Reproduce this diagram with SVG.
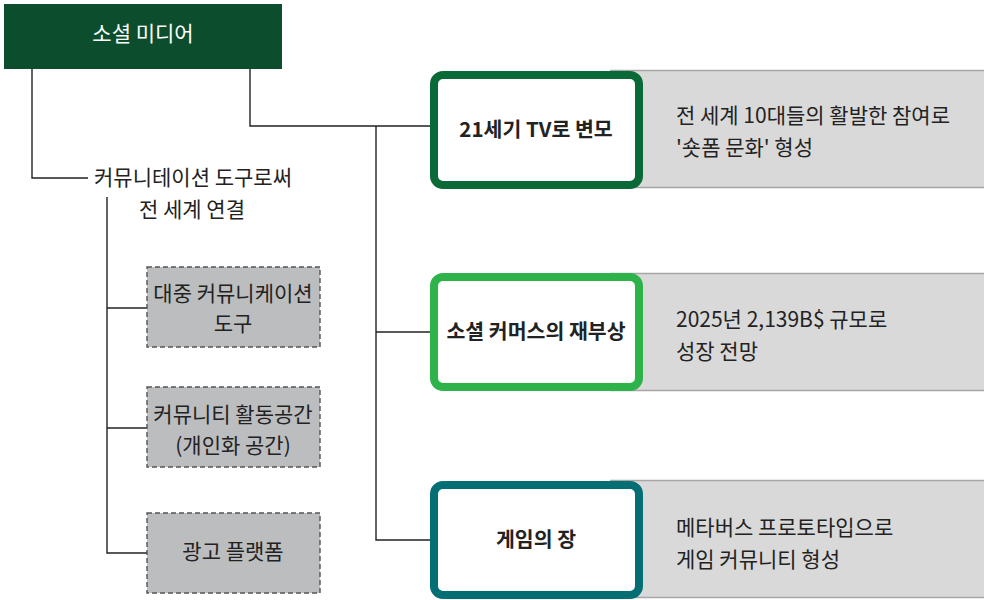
<svg xmlns="http://www.w3.org/2000/svg" width="984" height="600" viewBox="0 0 984 600">
<style>
text{font-family:"Noto Sans CJK KR","Noto Sans",sans-serif;fill:#222;font-size:21px}
.c{text-anchor:middle}
.t{font-weight:bold;font-size:20.5px}
.w{fill:#fff}
.ln{fill:none;stroke:#222;stroke-width:1.4}
.panel{fill:#d9d9d9}
.pl{stroke:#a6a6a6;stroke-width:1.5}
.dash{fill:#bcbdbf;stroke:#555;stroke-width:1.4;stroke-dasharray:5 3}
.box{fill:#fff;stroke-width:8}
</style>
<g id="connectors">
<path class="ln" d="M32 69 V178 H88"/>
<path class="ln" d="M250 69 V126 H432"/>
<path class="ln" d="M376 126 V540 H432"/>
<path class="ln" d="M376 332 H432"/>
<path class="ln" d="M107 197 V553 H147"/>
<path class="ln" d="M107 308 H147"/>
<path class="ln" d="M107 428 H147"/>
</g>
<g id="root">
<rect x="4" y="4" width="278" height="65" fill="#0b4d2d"/>
<text class="c w" x="143" y="41">소셜 미디어</text>
</g>
<g id="left-label">
<text class="c" x="193" y="185">커뮤니테이션 도구로써</text>
<text class="c" x="192" y="217">전 세계 연결</text>
</g>
<g id="left1">
<rect class="dash" x="147" y="267" width="173" height="80"/>
<text class="c" x="233" y="301">대중 커뮤니케이션</text>
<text class="c" x="233" y="331">도구</text>
</g>
<g id="left2">
<rect class="dash" x="147" y="387" width="173" height="80"/>
<text class="c" x="233" y="422">커뮤니티 활동공간</text>
<text class="c" x="233" y="453">(개인화 공간)</text>
</g>
<g id="left3">
<rect class="dash" x="147" y="513" width="173" height="80"/>
<text class="c" x="233" y="559">광고 플랫폼</text>
</g>
<g id="node1">
<rect class="panel" x="610" y="70" width="374" height="118"/>
<line class="pl" x1="610" y1="70.5" x2="984" y2="70.5"/>
<line class="pl" x1="610" y1="187.5" x2="984" y2="187.5"/>
<rect class="box" x="434" y="75" width="205" height="110" rx="9" stroke="#0a6a37"/>
<text class="c t" x="536" y="137">21세기 TV로 변모</text>
<text x="676" y="123">전 세계 10대들의 활발한 참여로</text>
<text x="676" y="155">'숏폼 문화' 형성</text>
</g>
<g id="node2">
<rect class="panel" x="610" y="273" width="374" height="118"/>
<line class="pl" x1="610" y1="273.5" x2="984" y2="273.5"/>
<line class="pl" x1="610" y1="390.5" x2="984" y2="390.5"/>
<rect class="box" x="434" y="277" width="205" height="110" rx="9" stroke="#2db34a"/>
<text class="c t" x="536" y="339">소셜 커머스의 재부상</text>
<text x="676" y="327">2025년 2,139B$ 규모로</text>
<text x="676" y="359">성장 전망</text>
</g>
<g id="node3">
<rect class="panel" x="610" y="480" width="374" height="118"/>
<line class="pl" x1="610" y1="480.5" x2="984" y2="480.5"/>
<line class="pl" x1="610" y1="597.5" x2="984" y2="597.5"/>
<rect class="box" x="434" y="485" width="205" height="110" rx="9" stroke="#036e74"/>
<text class="c t" x="536" y="547">게임의 장</text>
<text x="676" y="535">메타버스 프로토타입으로</text>
<text x="676" y="567">게임 커뮤니티 형성</text>
</g>
</svg>
